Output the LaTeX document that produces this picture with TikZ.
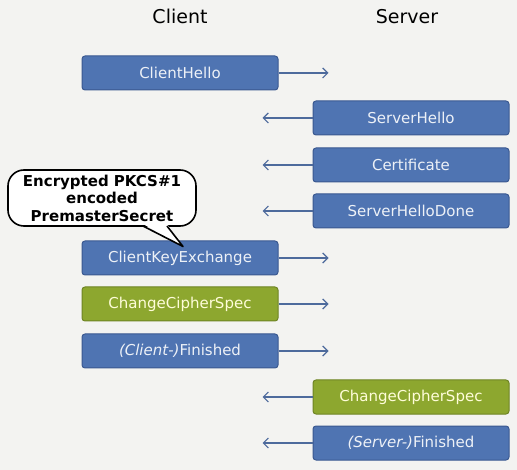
\documentclass[tikz,border=0pt]{standalone}
\usepackage{fontspec}
\setmainfont{DejaVu Sans}
\usepackage{tikz}
\usetikzlibrary{arrows.meta,calc}

\definecolor{bgpaper}{HTML}{F3F3F1}
\definecolor{boxblue}{HTML}{4F74B2}
\definecolor{boxblueline}{HTML}{3A5890}
\definecolor{boxgreen}{HTML}{8DA72F}
\definecolor{boxgreenline}{HTML}{6E8424}
\definecolor{flowcol}{HTML}{4D6A9C}

\tikzset{
    msg/.style={rounded corners=3pt, minimum width=196pt, minimum height=34pt,
        line width=1pt, font=\fontsize{15}{16}\selectfont, inner sep=0pt},
    msgblue/.style={msg, draw=boxblueline, fill=boxblue, text=white!90!boxblue},
    msggreen/.style={msg, draw=boxgreenline, fill=boxgreen, text=yellow!15!white},
    flow/.style={-{Straight Barb[length=5pt,width=10pt]}, flowcol, line width=1.2pt},
    title/.style={font=\fontsize{19}{22}\selectfont},
}

\begin{document}
\begin{tikzpicture}[x=1pt,y=-1pt]
    \fill[bgpaper] (0,0) rectangle (517,470);
    \useasboundingbox (0,0) rectangle (517,470);

    \node[title] (client) at (180,16) {Client};
    \node[title] (server) at (407,17) {Server};

    % client side
    \node[msgblue]  (chello)  at (180,73)  {ClientHello};
    \node[msgblue]  (ckx)     at (180,258) {ClientKeyExchange};
    \node[msggreen] (cccs)    at (180,304) {ChangeCipherSpec};
    \node[msgblue]  (cfin)    at (180,351) {\itshape(Client-)\upshape Finished};

    % server side
    \node[msgblue]  (shello)  at (411,118) {ServerHello};
    \node[msgblue]  (cert)    at (411,165) {Certificate};
    \node[msgblue]  (shdone)  at (411,211) {ServerHelloDone};
    \node[msggreen] (sccs)    at (411,397) {ChangeCipherSpec};
    \node[msgblue]  (sfin)    at (411,443) {\itshape(Server-)\upshape Finished};

    \foreach \m in {chello,ckx,cccs,cfin}{
        \coordinate (\m-end) at ($(\m.east)+(50,0)$);
        \draw[flow] (\m.east) -- (\m-end);
    }
    \foreach \m in {shello,cert,shdone,sccs,sfin}{
        \coordinate (\m-end) at ($(\m.west)+(-50,0)$);
        \draw[flow] (\m.west) -- (\m-end);
    }

    % callout
    \node[draw=black, line width=1.6pt, fill=white, rounded corners=16pt,
        minimum width=188pt, minimum height=56pt, inner sep=0pt, align=center,
        font=\bfseries\fontsize{15}{17.5}\selectfont] (note) at (102,198)
        {Encrypted PKCS\#1\\encoded\\PremasterSecret};
    \coordinate (tip) at ($(ckx.north)+(3,6)$);
    \fill[white] (143,224) -- (tip) -- (167,224) -- cycle;
    \draw[line width=1.6pt, line join=round] (143,226) -- (tip) -- (167,226);
\end{tikzpicture}
\end{document}
